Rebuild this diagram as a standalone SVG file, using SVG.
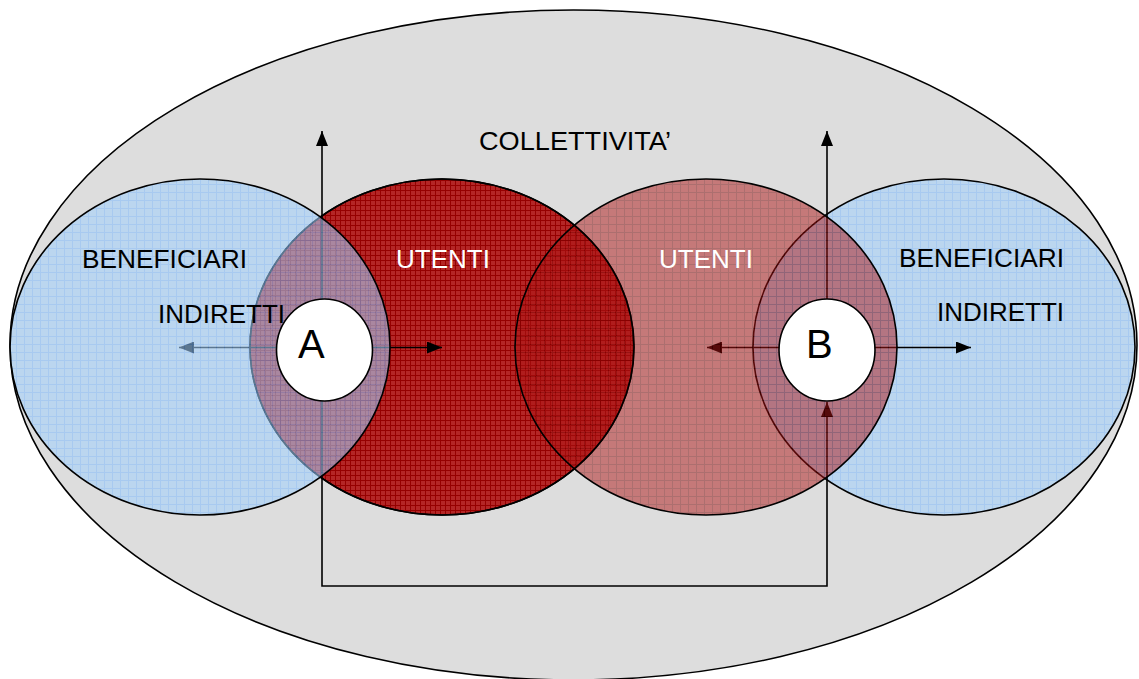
<svg xmlns="http://www.w3.org/2000/svg" width="1139" height="679" viewBox="0 0 1139 679">
<defs>
  <pattern id="pRedL" width="5" height="5" patternUnits="userSpaceOnUse">
    <rect width="5" height="5" fill="#b42626"/>
    <path d="M0,0.5H5M0.5,0V5" stroke="#960000" stroke-width="1"/>
  </pattern>
  <pattern id="pRedR" width="8" height="8" patternUnits="userSpaceOnUse">
    <rect width="8" height="8" fill="#ac1414"/>
    <path d="M0,0.5H8M0.5,0V8" stroke="#7a0000" stroke-width="1"/>
  </pattern>
  <pattern id="pBlue" width="8" height="8" patternUnits="userSpaceOnUse">
    <rect width="8" height="8" fill="#a2d0fc"/>
    <path d="M0,0.5H8M0.5,0V8" stroke="#80bcff" stroke-width="1"/>
  </pattern>
  <marker id="arrow" markerUnits="userSpaceOnUse" markerWidth="15" markerHeight="12" refX="15" refY="6" orient="auto">
    <path d="M0,0 L15,6 L0,12 z" fill="#000"/>
  </marker>
  <style>
    .outline { fill: none; stroke: #000; stroke-width: 1.6; }
    .conn { fill: none; stroke: #000; stroke-width: 1.6; marker-end: url(#arrow); }
    .lbl { font-family: "Liberation Sans", Arial, sans-serif; font-size: 25px; fill: #000; }
    .white { fill: #fff; }
    .big { font-family: "Liberation Sans", Arial, sans-serif; font-size: 40px; fill: #000; }
    .node { fill: #fff; stroke: #000; stroke-width: 1.6; }
  </style>
</defs>

<g id="collettivita">
  <ellipse cx="573.5" cy="345" rx="563.5" ry="335" fill="#dddddd" stroke="#000" stroke-width="1.6"/>
  <text class="lbl" x="479" y="150" textLength="192" lengthAdjust="spacingAndGlyphs">COLLETTIVITA’</text>
</g>

<g id="beneficiari-destra">
  <ellipse cx="944" cy="347" rx="191" ry="168" fill="url(#pBlue)" opacity="0.57"/>
  <ellipse class="outline" cx="944" cy="347" rx="191" ry="168"/>
  <text class="lbl" x="899" y="267" textLength="165" lengthAdjust="spacingAndGlyphs">BENEFICIARI</text>
  <text class="lbl" x="937" y="321" textLength="127" lengthAdjust="spacingAndGlyphs">INDIRETTI</text>
</g>

<g id="utenti-sinistra">
  <ellipse cx="442" cy="347" rx="192" ry="168" fill="url(#pRedL)" stroke="#000" stroke-width="1.6"/>
</g>

<g id="connectors">
  <line class="conn" x1="324" y1="347.5" x2="442" y2="347.5"/>
  <line class="conn" x1="324" y1="347.5" x2="179" y2="347.5"/>
  <line class="conn" x1="322" y1="347.5" x2="322" y2="131"/>
  <path class="conn" d="M322,350 V586 H827 V402"/>
  <line class="conn" x1="827" y1="347.5" x2="827" y2="131"/>
  <line class="conn" x1="827" y1="347.5" x2="707" y2="347.5"/>
  <line class="conn" x1="827" y1="347.5" x2="971" y2="347.5"/>
</g>

<g id="utenti-destra">
  <ellipse cx="706" cy="347" rx="191" ry="168" fill="url(#pRedR)" opacity="0.5"/>
  <ellipse class="outline" cx="706" cy="347" rx="191" ry="168"/>
  <ellipse class="outline" cx="442" cy="347" rx="192" ry="168"/>
  <text class="lbl white" x="659" y="268" textLength="94" lengthAdjust="spacingAndGlyphs">UTENTI</text>
</g>

<g id="beneficiari-sinistra">
  <ellipse cx="200" cy="347" rx="190" ry="168" fill="url(#pBlue)" opacity="0.57"/>
  <ellipse class="outline" cx="200" cy="347" rx="190" ry="168"/>
  <text class="lbl" x="82" y="268" textLength="165" lengthAdjust="spacingAndGlyphs">BENEFICIARI</text>
  <text class="lbl" x="158" y="323" textLength="127" lengthAdjust="spacingAndGlyphs">INDIRETTI</text>
</g>

<g id="utenti-sinistra-label">
  <text class="lbl white" x="396" y="268" textLength="94" lengthAdjust="spacingAndGlyphs">UTENTI</text>
</g>

<g id="node-A">
  <ellipse class="node" cx="324.5" cy="350" rx="48" ry="51"/>
  <text class="big" x="298" y="358">A</text>
</g>

<g id="node-B">
  <ellipse class="node" cx="827" cy="350" rx="48" ry="51"/>
  <text class="big" x="806" y="358">B</text>
</g>
</svg>
